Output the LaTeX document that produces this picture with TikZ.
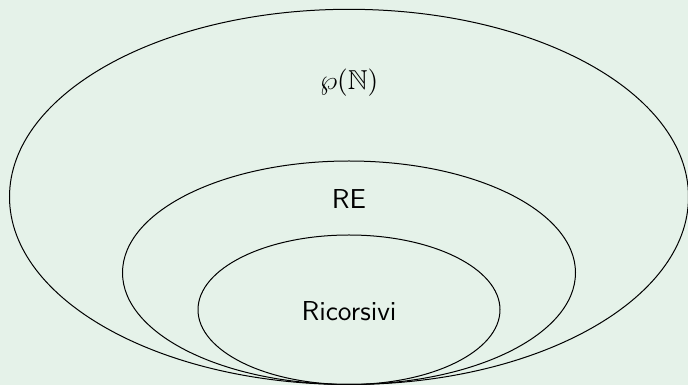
\documentclass[tikz,border=0pt]{standalone}
\usepackage{amssymb}
\usepackage{fontspec}
\definecolor{bgcol}{RGB}{229,242,233}
\tikzset{
  setline/.style={draw=black, line width=0.4pt},
  setlabel/.style={anchor=base, inner sep=0pt, font=\fontsize{10.95}{13}\selectfont\sffamily}
}
\begin{document}
\begin{tikzpicture}[x=0.4pt, y=-0.4pt]
  \fill[bgcol] (0,0) rectangle (688,385);
  \useasboundingbox (0,0) rectangle (688,385);
  \coordinate (cOuter) at (349,196.9);
  \coordinate (cMid) at (349,272.75);
  \coordinate (cIn) at (349,309.75);
  \draw[setline] (cOuter) ellipse [x radius=339.5*0.4pt, y radius=187.6*0.4pt];
  \draw[setline] (cMid) ellipse [x radius=226.5*0.4pt, y radius=111.75*0.4pt];
  \draw[setline] (cIn) ellipse [x radius=151*0.4pt, y radius=74.75*0.4pt];
  \node[setlabel] (pn) at (349,90) {$\wp(\mathbb{N})$};
  \node[setlabel] (re) at (349,209) {RE};
  \node[setlabel] (ric) at (349,321) {Ricorsivi};
\end{tikzpicture}
\end{document}
